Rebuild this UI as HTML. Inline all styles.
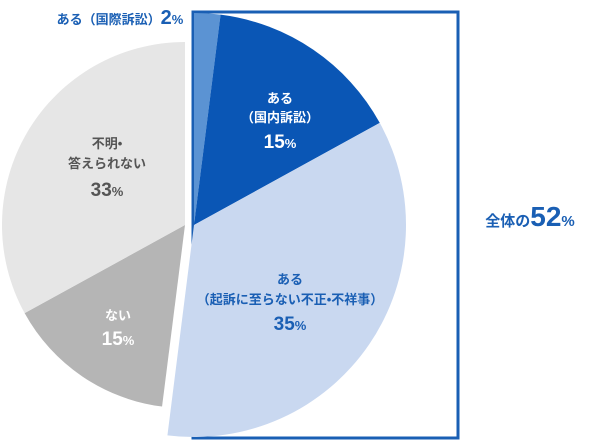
<!DOCTYPE html>
<html><head><meta charset="utf-8"><style>
body{margin:0;background:#fff;width:600px;height:443px;overflow:hidden}
svg{display:block;font-family:"Liberation Sans","Noto Sans CJK JP",sans-serif}
</style></head><body>
<svg id="c" width="600" height="443">
<rect x="193" y="12" width="265" height="426" fill="none" stroke="#1a5fb4" stroke-width="3"/>
<g id="slices"></g>
<g id="labels" font-weight="bold" text-anchor="middle">
<text x="120" y="24" fill="#1a5fb4" font-size="13">ある（国際訴訟）<tspan font-size="20">2</tspan><tspan font-size="13">%</tspan></text>
<text x="280" y="103" fill="#fff" font-size="13">ある</text>
<text x="280" y="122" fill="#fff" font-size="13">（国内訴訟）</text>
<text x="280" y="148" fill="#fff" font-size="19">15<tspan font-size="13">%</tspan></text>
<text x="290" y="284" fill="#1a5fb4" font-size="13">ある</text>
<text x="290" y="304" fill="#1a5fb4" font-size="13">（起訴に至らない不正•不祥事）</text>
<text x="290" y="330" fill="#1a5fb4" font-size="19">35<tspan font-size="13">%</tspan></text>
<text x="107" y="148" fill="#555" font-size="13">不明•</text>
<text x="107" y="168" fill="#555" font-size="13">答えられない</text>
<text x="107" y="196" fill="#555" font-size="19">33<tspan font-size="13">%</tspan></text>
<text x="118" y="320" fill="#fff" font-size="13">ない</text>
<text x="118" y="345" fill="#fff" font-size="19">15<tspan font-size="13">%</tspan></text>
<text x="530" y="226" fill="#1a5fb4" font-size="15">全体の<tspan font-size="28">52</tspan><tspan font-size="15">%</tspan></text>
</g>
</svg>
<script>
const categories=["ある（国際訴訟）","ある（国内訴訟）","ある（起訴に至らない不正・不祥事）","ない","不明・答えられない"];
const values=[2,15,35,15,33];
const colors=["#5b93d3","#0a56b5","#c9d8f0","#b5b5b5","#e6e6e6"];
const groupYes=[0,1,2];
const g=document.getElementById('slices');
const total=values.reduce((a,b)=>a+b,0);
let acc=0;
values.forEach((v,i)=>{
  const yes=groupYes.includes(i);
  const cx=yes?194:185, cy=225, r=yes?212:183;
  const a0=acc/total*2*Math.PI, a1=(acc+v)/total*2*Math.PI; acc+=v;
  const x0=cx+r*Math.sin(a0), y0=cy-r*Math.cos(a0), x1=cx+r*Math.sin(a1), y1=cy-r*Math.cos(a1);
  const p=document.createElementNS('http://www.w3.org/2000/svg','path');
  p.setAttribute('d',`M${cx},${cy}L${x0},${y0}A${r},${r} 0 ${(a1-a0)>Math.PI?1:0} 1 ${x1},${y1}Z`);
  p.setAttribute('fill',colors[i]);
  
  
  g.appendChild(p);
});
</script>
</body></html>
